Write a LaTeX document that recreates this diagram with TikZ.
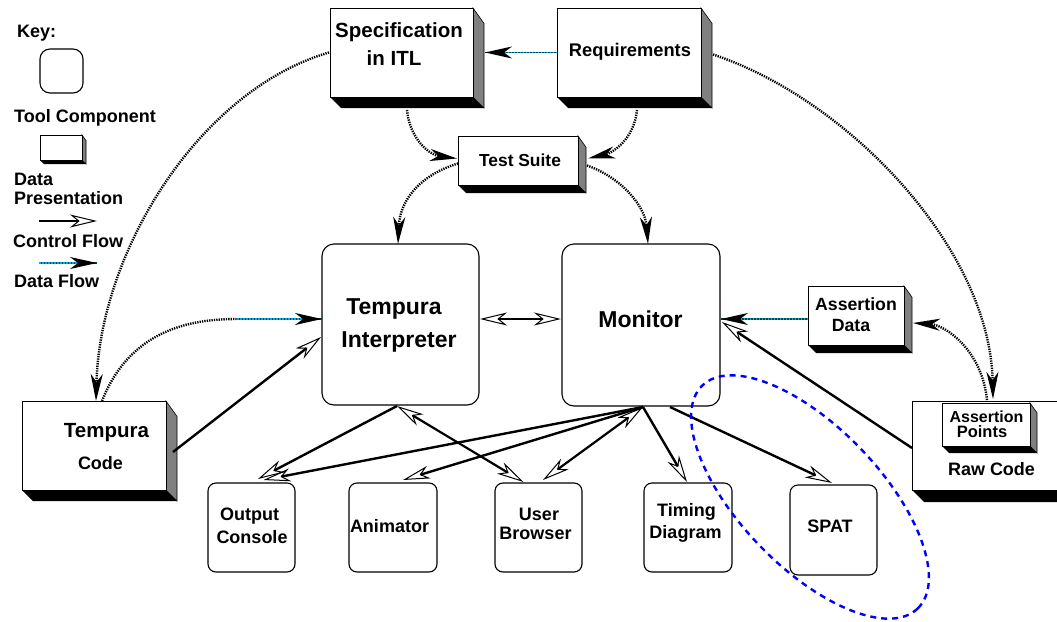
\documentclass[tikz,border=0pt]{standalone}
\usepackage{fontspec}
\setmainfont{Liberation Sans}
\usetikzlibrary{arrows.meta,calc}
\newcommand\fsz[1]{\fontsize{#1}{#1}\selectfont\bfseries}
\newcommand\databox[6]{%
  \fill[black] (#2,#5) -- (#2+#6,#5+#6) -- (#4+#6,#5+#6) -- (#4,#5) -- cycle;
  \filldraw[fill=gray, draw=black, line width=0.6pt] (#4,#3) -- (#4+#6,#3+1.4*#6) -- (#4+#6,#5+#6) -- (#4,#5) -- cycle;
  \node[dbox, minimum width=#4-#2, minimum height=#5-#3] (#1) at (#2,#3) {};
}
\tikzset{
  dbox/.style={draw, fill=white, line width=0.9pt, inner sep=0pt, outer sep=0pt, anchor=north west},
  tool/.style={draw, fill=white, line width=1.1pt, rounded corners=8pt, inner sep=0pt, outer sep=0pt, anchor=north west},
  lbl/.style={anchor=base, inner sep=0pt, font=\fsz{18}},
  ctrl/.style={line width=2.4pt, -{Stealth[open,length=27pt,width=13pt,inset=8pt,line width=1pt]}},
  ctrlboth/.style={line width=2.2pt, {Stealth[open,length=27pt,width=13pt,inset=8pt,line width=1pt]}-{Stealth[open,length=27pt,width=13pt,inset=8pt,line width=1pt]}},
  dcurve/.style={line width=2.4pt, dash pattern=on 1.3pt off 1.1pt, -{Stealth[length=27pt,width=12pt,inset=8pt]}},
  dflow/.style={line width=1.8pt, draw=cyan, dash pattern=on 1.5pt off 1.5pt,
     preaction={draw=teal!55!black, line width=1.8pt, solid, -},
     -{Stealth[length=27pt,width=12pt,inset=8pt,color=black]}},
  hull/.style={draw=blue, line width=2.4pt, dash pattern=on 6pt off 5pt}
}
\begin{document}
\begin{tikzpicture}[x=1pt,y=-1pt]
\useasboundingbox (0,0) rectangle (1057,621);
\clip (0,0) rectangle (1057,621);
\fill[white] (0,0) rectangle (1057,621);

% ---------- key ----------
\node[lbl, anchor=base west] (kkey) at (17,37) {Key:};
\node[tool, rounded corners=10pt, minimum width=43pt, minimum height=44pt] (ktool) at (40,49) {};
\node[lbl] (ktooltxt) at (85,122) {Tool Component};
\databox{kdata}{40}{135}{82}{160}{4}
\node[lbl, anchor=base west] (kdatatxt1) at (14,185) {Data};
\node[lbl, anchor=base west] (kdatatxt2) at (14,204) {Presentation};
\coordinate (kc1) at (39,221);
\coordinate (kc2) at (97,221);
\draw[ctrl] (kc1) -- (kc2);
\node[lbl, anchor=base west] (kctrltxt) at (13,247) {Control Flow};
\coordinate (kd1) at (39,263);
\coordinate (kd2) at (97,263);
\draw[dflow] (kd1) -- (kd2);
\node[lbl, anchor=base west] (kdflowtxt) at (14,287) {Data Flow};

% ---------- data boxes ----------
\databox{spec}{330}{8}{473}{97}{11}
\node[lbl, font=\fsz{20.5}] (spec1) at (399,37) {Specification};
\node[lbl, font=\fsz{20.5}] (spec2) at (394,65) {in ITL};

\databox{req}{557}{8}{701}{97}{11}
\node[lbl, font=\fsz{18.3}] (reqt) at (630,56) {Requirements};

\databox{test}{458}{136}{578}{185}{8}
\node[lbl, font=\fsz{17.4}] (testt) at (520,166) {Test Suite};

\databox{adata}{808}{286}{904}{345}{8}
\node[lbl, font=\fsz{17.7}] (adata1) at (856,310) {Assertion};
\node[lbl, font=\fsz{17.7}] (adata2) at (851,331) {Data};

\databox{code}{22}{401}{166}{490}{11}
\node[lbl, font=\fsz{20.5}] (code1) at (106.5,437) {Tempura};
\node[lbl] (code2) at (100.5,469) {Code};

\databox{raw}{912}{401}{1075}{490}{12}
\databox{apts}{942}{403}{1030}{446}{7}
\node[lbl, font=\fsz{16}] (apts1) at (986.5,422) {Assertion};
\node[lbl, font=\fsz{16.5}] (apts2) at (982,437) {Points};
\node[lbl] (rawt) at (991.5,475) {Raw Code};

% ---------- tool components ----------
\node[tool, rounded corners=12pt, minimum width=157pt, minimum height=161pt] (interp) at (322,244) {};
\node[lbl, font=\fsz{23}] (interp1) at (394,314) {Tempura};
\node[lbl, font=\fsz{23}] (interp2) at (399,347) {Interpreter};

\node[tool, rounded corners=12pt, minimum width=158pt, minimum height=162pt] (monitor) at (562,244) {};
\node[lbl, font=\fsz{23}] (monitort) at (640.5,327) {Monitor};

\node[tool, minimum width=87pt, minimum height=89pt] (out) at (208,483) {};
\node[lbl] (out1) at (249.5,520) {Output};
\node[lbl] (out2) at (252,543) {Console};

\node[tool, minimum width=88pt, minimum height=89pt] (anim) at (349,483) {};
\node[lbl] (animt) at (389.5,532) {Animator};

\node[tool, minimum width=87pt, minimum height=89pt] (ub) at (495,483) {};
\node[lbl] (ub1) at (539,520) {User};
\node[lbl] (ub2) at (535.5,539) {Browser};

\node[tool, minimum width=88pt, minimum height=89pt] (td) at (644,483) {};
\node[lbl] (td1) at (686.5,516.5) {Timing};
\node[lbl] (td2) at (685.5,538) {Diagram};

\node[tool, minimum width=87pt, minimum height=90pt] (spat) at (790,485) {};
\node[lbl] (spatt) at (830,532) {SPAT};

% ---------- data flow ----------
\draw[dflow] (req.west) -- ($(spec.east)+(12,0)$);
\draw[dcurve] ($(spec.south)+(5.5,13)$) .. controls (410,140) and (430,155) .. ($(test.west)+(-1,-2)$);
\draw[dcurve] ($(req.south)+(8,13)$) .. controls (634,140) and (612,153) .. ($(test.east)+(10,-2)$);
\draw[dcurve] ($(test.west)+(0,3)$) .. controls (420,175) and (400,200) .. ($(interp.north)+(-2.5,0)$);
\draw[dcurve] ($(test.east)+(9,5)$) .. controls (620,177) and (645,205) .. ($(monitor.north)+(7,0)$);
\draw[dcurve] ($(spec.west)+(-1,0)$) .. controls (200,90) and (100,250) .. ($(code.north)+(2,0)$);
\coordinate (dj) at (237,319);
\draw[line width=2.4pt, dash pattern=on 1.3pt off 1.1pt] ($(code.north)+(8,0)$) .. controls (130,330) and (190,319) .. (dj);
\draw[dflow] (dj) -- ($(interp.west)+(0,-5.5)$);
\draw[dcurve] ($(req.east)+(12,2)$) .. controls (850,100) and (990,250) .. ($(raw.north west)+(81,-2)$);
\draw[dcurve] ($(raw.north west)+(75,-1)$) .. controls (982,350) and (945,325) .. ($(adata.east)+(9,7.5)$);
\draw[dflow] ($(adata.west)+(0,3.5)$) -- ($(monitor.east)+(1,-6)$);

% ---------- control flow ----------
\draw[ctrl] ($(code.east)+(7,6.5)$) -- ($(interp.west)+(-1,12.5)$);
\draw[ctrlboth] ($(interp.east)+(1,-5.5)$) -- ($(monitor.west)+(-1,-6)$);
\draw[ctrl] ($(raw.north west)+(0,47)$) -- ($(monitor.east)+(2,-3)$);
\draw[ctrl] ($(interp.south)+(-3.5,1)$) -- ($(out.north)+(6.5,-4)$);
\draw[ctrl] ($(monitor.south)+(2,1)$) -- ($(out.north)+(12,-3)$);
\draw[ctrl] ($(monitor.south)+(2,1)$) -- ($(anim.north)+(10,-3)$);
\draw[ctrlboth] ($(interp.south)+(-3.5,1)$) -- ($(ub.north)+(-15,-1)$);
\draw[ctrlboth] ($(monitor.south)+(2,1)$) -- ($(ub.north)+(4.5,-3)$);
\draw[ctrl] ($(monitor.south)+(2,1)$) -- ($(td.north)+(-1,-1)$);
\draw[ctrl] ($(monitor.south)+(29,1)$) -- ($(spat.north)+(-1.5,-2)$);

% ---------- hull ----------
\draw[hull, rotate around={-46:(810,497)}] (810,497) ellipse [x radius=155, y radius=70];
\end{tikzpicture}
\end{document}
